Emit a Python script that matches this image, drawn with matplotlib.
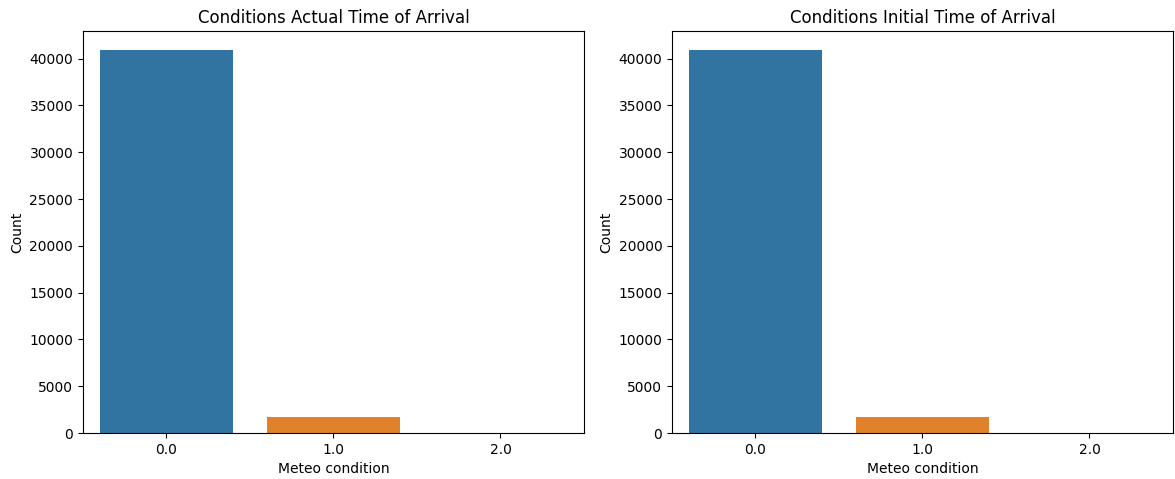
import numpy as np
import matplotlib
matplotlib.use("Agg")
from matplotlib import pyplot as plt

# counts per meteo condition
conditions = ["0.0", "1.0", "2.0"]
actual_counts = [40890, 1690, 25]
initial_counts = [40890, 1760, 25]

# seaborn countplot default palette (desaturated tab10)
colors = ["#3274a1", "#e1812c", "#3a923a"]

fig = plt.figure(figsize=(11.75, 4.79), dpi=100)
ax1 = fig.add_axes([0.0706, 0.096, 0.4264, 0.839])
ax2 = fig.add_axes([0.5719, 0.096, 0.4264, 0.839])

for ax, counts, title in [(ax1, actual_counts, "Conditions Actual Time of Arrival"),
                          (ax2, initial_counts, "Conditions Initial Time of Arrival")]:
    x = np.arange(len(conditions))
    ax.bar(x, counts, width=0.8, color=colors)
    ax.set_xticks(x)
    ax.set_xticklabels(conditions)
    ax.set_xlim(-0.5, len(conditions) - 0.5)
    ax.set_yticks(np.arange(0, 40001, 5000))
    ax.set_xlabel("Meteo condition")
    ax.set_ylabel("Count")
    ax.set_title(title)

fig.savefig("out.png", dpi=100)
